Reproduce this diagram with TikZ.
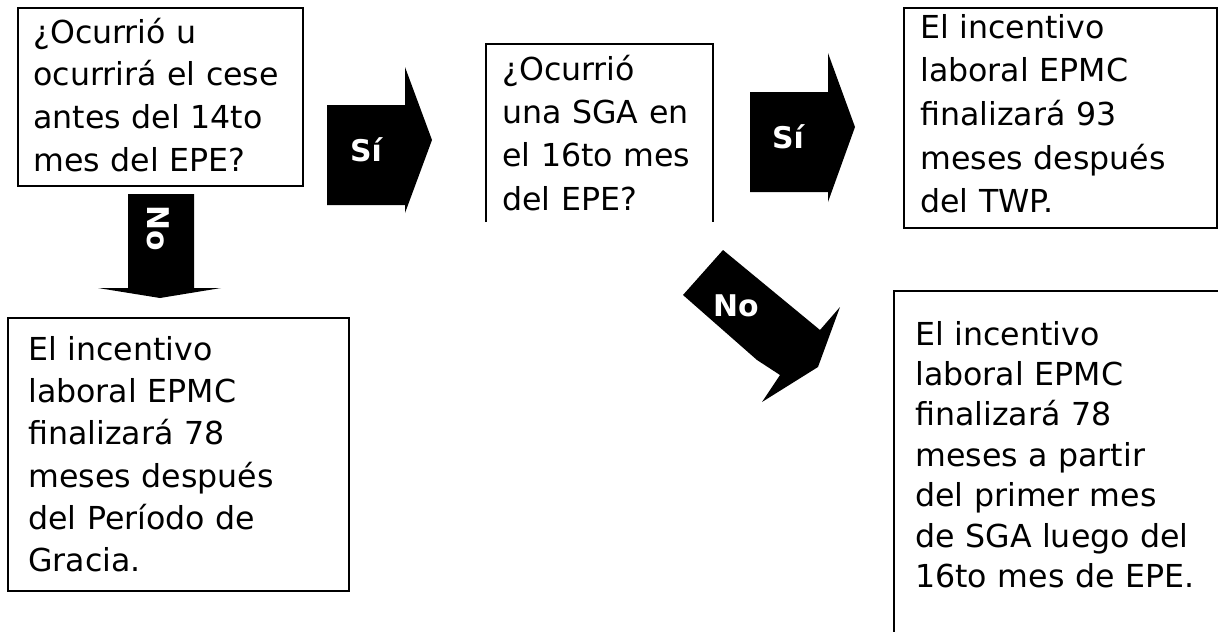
\documentclass[tikz,border=0pt]{standalone}
\usepackage{fontspec}
\setmainfont{DejaVu Sans}
\usetikzlibrary{positioning}

\begin{document}
\begin{tikzpicture}[x=0.02cm,y=-0.02cm,
  caja/.style={draw=black,line width=1.2pt,inner sep=0pt,anchor=north west},
  texto/.style={anchor=base west,inner sep=0pt,text width=8cm,align=left,font=\fontsize{18}{#1}\selectfont},
  flecha/.style={fill=black,draw=none},
  rotulo/.style={text=white,inner sep=0pt,font=\bfseries\fontsize{17}{17}\selectfont}]
\useasboundingbox (0,0) rectangle (1218,632);

% cajas
\node[caja,minimum width=5.70cm,minimum height=3.56cm] (q1) at (17,7) {};
\node[caja,draw=none,minimum width=4.50cm,minimum height=3.52cm] (q2) at (486,44) {};
\draw[line width=1.2pt] (q2.south west) -- (q2.north west) -- (q2.north east) -- (q2.south east);
\node[caja,minimum width=6.26cm,minimum height=4.40cm] (r1) at (903,7) {};
\node[caja,minimum width=6.82cm,minimum height=5.46cm] (r2) at (7,317) {};
\node[caja,draw=none,minimum width=6.70cm,minimum height=6.90cm] (r3) at (894,291) {};
\draw[line width=1.2pt] (r3.south west) -- (r3.north west) -- (r3.north east);

% textos
\node[texto=24.4] (t1) at (33,43) {¿Ocurrió u\\ocurrirá el cese\\antes del 14to\\mes del EPE?};
\node[texto=24.7] (t2) at (502,80) {¿Ocurrió\\una SGA en\\el 16to mes\\del EPE?};
\node[texto=24.9] (t3) at (920,38) {El incentivo\\laboral EPMC\\finalizará 93\\meses después\\del TWP.};
\node[texto=24.1] (t4) at (28,360) {El incentivo\\laboral EPMC\\finalizará 78\\meses después\\del Período de\\Gracia.};
\node[texto=23.0] (t5) at (915,345) {El incentivo\\laboral EPMC\\finalizará 78\\meses a partir\\del primer mes\\de SGA luego del\\16to mes de EPE.};

% flechas
\fill[flecha] (327,105) -- (405,105) -- (405,67) -- (432,140) -- (405,213) -- (405,205) -- (327,205) -- cycle;
\fill[flecha] (750,92) -- (828,92) -- (828,53) -- (855,127) -- (828,202) -- (828,192) -- (750,192) -- cycle;
\fill[flecha] (128,194) -- (194,194) -- (194,288) -- (221,288) -- (160,298) -- (98,288) -- (128,288) -- cycle;
\fill[flecha] (723,250) -- (820,330) -- (840,307) -- (818,367) -- (762,402) -- (780,375) -- (757,360) -- (683,295) -- cycle;

\node[rotulo] (si1) at (366,150) {Sí};
\node[rotulo] (si2) at (788,137) {Sí};
\node[rotulo,rotate=-90] (no1) at (158,228) {No};
\node[rotulo] (no2) at (736,306) {No};

\end{tikzpicture}
\end{document}
